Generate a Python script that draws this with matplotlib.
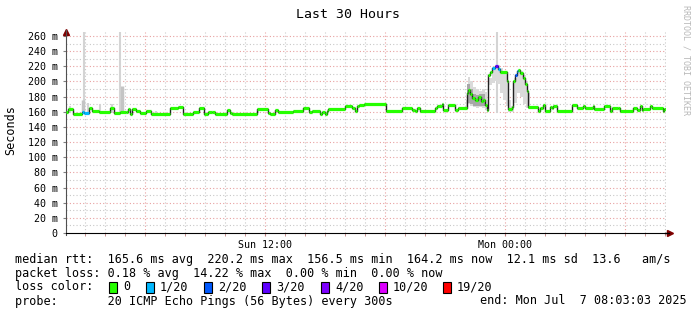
import matplotlib
matplotlib.use("Agg")
import matplotlib.pyplot as plt
from matplotlib.patches import Rectangle

W, H, DPI = 697, 315, 100

# time axis: hours since window start (Sun 02:03:03), 30 h shown
t_hours = [0.00, 0.12, 0.33, 0.78, 0.90, 1.17, 1.28, 1.67, 2.20, 2.42, 2.70, 3.00, 3.12, 3.20,
           3.28, 3.50, 3.70, 4.00, 4.23, 5.20, 5.62, 5.83, 6.37, 6.67, 6.90, 7.12, 7.30, 7.45,
           8.03, 8.20, 8.28, 9.53, 10.12, 10.20, 10.45, 10.62, 11.37, 11.87, 12.15, 12.28, 12.70,
           12.82, 12.95, 13.03, 13.12, 13.95, 14.28, 14.45, 14.53, 14.67, 14.92, 16.00, 16.78,
           17.28, 17.45, 17.53, 17.70, 18.45, 18.53, 18.78, 18.87, 19.12, 19.45, 19.62, 20.03,
           20.12, 20.20, 20.30, 20.45, 20.60, 20.75, 20.85, 20.95, 21.03, 21.12, 21.20, 21.28,
           21.45, 21.62, 21.70, 22.03, 22.12, 22.28, 22.37, 22.45, 22.53, 22.62, 22.70, 22.87,
           22.95, 23.03, 23.12, 23.62, 23.70, 23.87, 23.95, 24.20, 24.28, 24.37, 24.53, 25.28,
           25.53, 25.87, 25.95, 26.37, 26.42, 26.92, 27.20, 27.28, 27.62, 27.70, 28.37, 28.53,
           28.70, 28.78, 28.87, 29.20, 29.28, 29.87, 29.92]
median_ms = [159.2, 163.0, 156.6, 159.2, 157.9, 164.5, 161.0, 159.2, 164.5, 157.9, 159.2, 160.0, 163.6, 156.6,
             163.6, 161.0, 157.9, 161.0, 156.6, 164.5, 165.8, 156.6, 159.2, 164.5, 156.6, 160.0, 159.2, 156.6,
             162.3, 157.9, 156.6, 163.6, 157.9, 156.6, 162.3, 160.0, 161.0, 164.5, 159.2, 161.0, 156.6,
             159.2, 156.6, 161.0, 163.6, 167.5, 165.4, 161.0, 167.5, 168.9, 169.8, 161.0, 164.5,
             162.3, 161.0, 164.5, 161.0, 165.4, 167.5, 169.8, 162.3, 168.9, 162.3, 165.4, 185.0,
             188.6, 183.0, 178.0, 176.0, 179.0, 174.0, 176.0, 169.0, 162.3, 208.0, 213.0, 218.0,
             220.2, 216.0, 213.0, 200.0, 163.0, 166.0, 200.0, 208.0, 214.0, 215.0, 211.0, 205.0,
             196.0, 188.0, 166.7, 161.0, 164.5, 168.9, 161.0, 166.7, 164.5, 167.5, 161.0, 168.9,
             165.4, 167.5, 165.4, 167.5, 163.6, 167.5, 161.0, 164.5, 165.4, 161.0, 164.5, 162.3,
             167.5, 162.3, 163.6, 167.5, 164.5, 161.0, 164.2]
loss_n = [0, 0, 0, 1, 1, 0, 0, 0, 0, 0, 0, 0, 0, 0,
          0, 0, 0, 0, 0, 0, 0, 0, 0, 0, 0, 0, 0, 0,
          0, 0, 0, 0, 0, 0, 0, 0, 0, 0, 0, 0, 0,
          0, 0, 0, 0, 0, 0, 0, 0, 0, 0, 0, 0,
          0, 0, 0, 0, 0, 0, 0, 0, 0, 0, 0, 0,
          0, 0, 0, 0, 0, 0, 0, 0, 0, 0, 0, 1,
          3, 1, 0, 0, 0, 0, 0, 2, 1, 0, 0, 0,
          0, 0, 0, 0, 0, 0, 0, 0, 0, 0, 0, 0,
          0, 0, 0, 0, 0, 0, 0, 0, 0, 0, 0, 0,
          0, 0, 0, 0, 0, 0, 0]

# smoke (spread of the 20 pings)
band_t = [20.0, 20.1, 20.2, 20.35, 20.5, 20.65, 20.8, 20.95, 21.05, 21.15, 21.3, 21.45, 21.55,
          21.7, 21.85, 22.0, 22.1, 22.25, 22.4, 22.55, 22.7, 22.85, 23.0, 23.1, 23.2]
band_hi = [175, 206, 200, 192, 190, 188, 190, 186, 175, 205, 218, 221, 222,
           218, 214, 212, 175, 168, 205, 213, 214, 208, 200, 185, 168]
band_lo = [163, 170, 168, 166, 165, 166, 165, 164, 160, 195, 198, 200, 196,
           185, 175, 168, 160, 160, 172, 185, 180, 170, 165, 163, 163]
dark_t = [20.05, 20.2, 20.35, 20.5, 20.65, 20.8, 20.95]
dark_hi = [196, 190, 184, 182, 183, 184, 178]
dark_lo = [172, 170, 168, 168, 168, 167, 165]
spike_t = [0.2, 0.92, 1.1, 1.7, 2.3, 2.72, 4.5, 9.6, 21.55]
spike_top = [167, 265.6, 172, 170, 170, 265.6, 161, 163, 265]
wide_t = [0.85, 2.78]
wide_top = [175, 194]

tick_pos = [9.95, 21.95]
tick_lab = ["Sun 12:00", "Mon 00:00"]
y_ticks = list(range(0, 261, 20))

loss_names = ["0", "1/20", "2/20", "3/20", "4/20", "10/20", "19/20"]
loss_cols = ["#26ff00", "#00b8ff", "#0059ff", "#5e00ff", "#7e00ff", "#dd00ff", "#ff0000"]
loss_map = {0: 0, 1: 1, 2: 2, 3: 3, 4: 4, 10: 5, 19: 6}

rtt_line = "median rtt:  165.6 ms avg  220.2 ms max  156.5 ms min  164.2 ms now  12.1 ms sd  13.6   am/s"
loss_line = "packet loss: 0.18 % avg  14.22 % max  0.00 % min  0.00 % now"
probe_line = "probe:       20 ICMP Echo Pings (56 Bytes) every 300s"
end_line = "end: Mon Jul  7 08:03:03 2025"

MONO = "DejaVu Sans Mono"


def fx(x):
    return x / W


def fy(y):
    return 1 - y / H


fig = plt.figure(figsize=(W / DPI, H / DPI), dpi=DPI, facecolor="white")
ax = fig.add_axes([fx(66), fy(233), 600 / W, (233 - 31.7) / H])
ax.set_facecolor("white")
ax.set_xlim(0, 30)
ax.set_ylim(0, 265.6)

# grid
for h in range(30):
    x = h + 0.95
    major = (h % 6) == 3
    ax.axvline(x, color="#e8a0a0" if major else "#c8c8c8", lw=0.8, ls=(0, (1, 2)), zorder=0)
for v in range(10, 266, 10):
    ax.axhline(v, color="#e8a0a0" if v % 20 == 0 else "#c8c8c8", lw=0.8, ls=(0, (1, 2)), zorder=0)

# smoke
ax.vlines(spike_t, 158, spike_top, color="#d4d4d4", lw=1.5, zorder=1)
ax.vlines(wide_t, 158, wide_top, color="#c4c4c4", lw=2.5, zorder=1)
ax.fill_between(band_t, band_lo, band_hi, step="post", color="#dadada", lw=0, zorder=1)
ax.fill_between(dark_t, dark_lo, dark_hi, step="post", color="#a8a8a8", lw=0, zorder=1)

# median line: dark step, then coloured levels by loss
ax.step(t_hours + [30], median_ms + [median_ms[-1]], where="post", color="#202020", lw=1.0, zorder=2)
ends = t_hours[1:] + [30]
cols = [loss_cols[loss_map[n]] for n in loss_n]
ax.hlines(median_ms, t_hours, ends, colors=cols, lw=2.3, zorder=3)

for s in ["top", "right"]:
    ax.spines[s].set_visible(False)
ax.spines["left"].set_color("#505050")
ax.spines["bottom"].set_color("#000000")
ax.spines["left"].set_bounds(-2, 268)

ax.set_xticks(tick_pos)
ax.set_xticklabels(tick_lab, fontfamily=MONO, fontsize=7.2)
ax.set_xticks([h + 0.95 for h in range(30)], minor=True)
ax.tick_params(axis="x", which="both", length=2, color="#c08080", pad=3)
ax.set_yticks(y_ticks)
ax.set_yticklabels([("%d m" % v) if v else "0" for v in y_ticks], fontfamily=MONO, fontsize=7.2)
ax.tick_params(axis="y", length=2, color="#808080", pad=4)

# axis arrows
ax.plot([0], [1.0], transform=ax.transAxes, marker="^", color="#800000", ms=5, clip_on=False)
ax.plot([1.007], [0], transform=ax.transAxes, marker=">", color="#800000", ms=5, clip_on=False)
ax.plot([0.998, 1.005], [0, 0], transform=ax.transAxes, color="#000000", lw=1, clip_on=False)

fig.text(fx(348), fy(14), "Last 30 Hours", ha="center", va="center", fontfamily=MONO, fontsize=9.5)
fig.text(fx(11), fy(130), "Seconds", ha="center", va="center", rotation=90, fontfamily=MONO, fontsize=8.5)
fig.text(fx(686), fy(5), "RRDTOOL / TOBI OETIKER", ha="center", va="top", rotation=270,
         fontfamily=MONO, fontsize=6, color="#b8b8b8")

fig.text(fx(15), fy(259), rtt_line, ha="left", va="center", fontfamily=MONO, fontsize=8.5)
fig.text(fx(15), fy(273), loss_line, ha="left", va="center", fontfamily=MONO, fontsize=8.5)
fig.text(fx(15), fy(287), "loss color:", ha="left", va="center", fontfamily=MONO, fontsize=8.5)
box_x = [109, 146, 204, 262, 321, 379, 443]
for bx, name, c in zip(box_x, loss_names, loss_cols):
    fig.patches.append(Rectangle((fx(bx), fy(292.5)), 8 / W, 11 / H, transform=fig.transFigure,
                                 facecolor=c, edgecolor="black", lw=0.8))
    fig.text(fx(bx + 14), fy(287), name, ha="left", va="center", fontfamily=MONO, fontsize=8.5)
fig.text(fx(15), fy(301), probe_line, ha="left", va="center", fontfamily=MONO, fontsize=8.5)
fig.text(fx(480), fy(301), end_line, ha="left", va="center", fontfamily=MONO, fontsize=8.5)

fig.savefig("out.png", dpi=DPI, facecolor="white")
